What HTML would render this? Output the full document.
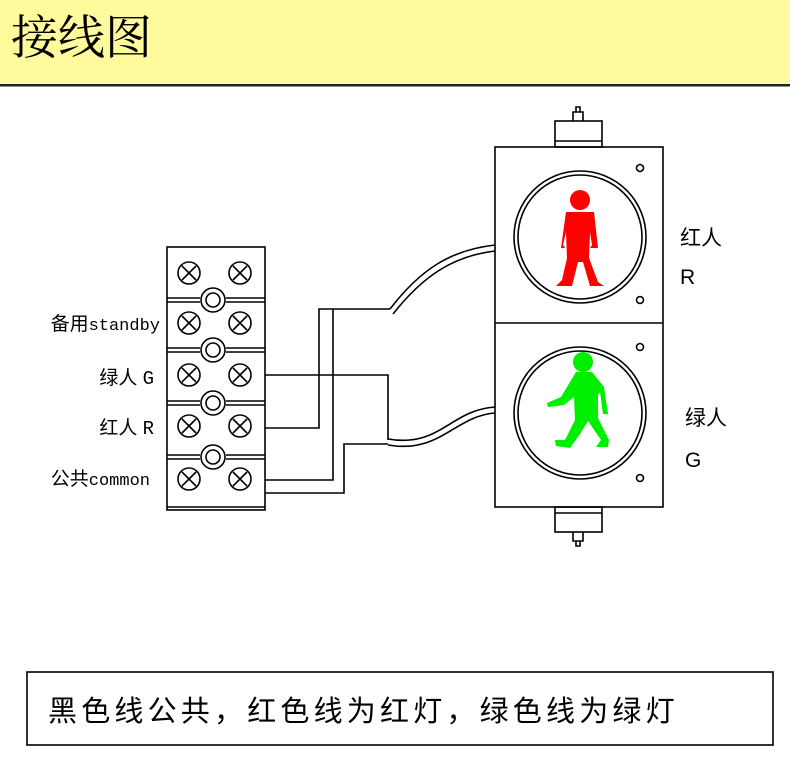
<!DOCTYPE html>
<html><head><meta charset="utf-8"><style>
body{margin:0;width:790px;height:771px;background:#fff;overflow:hidden}
svg{display:block}
text{font-family:"Liberation Sans","Noto Sans CJK SC",sans-serif}
</style></head><body>
<svg width="790" height="771" viewBox="0 0 790 771" xmlns="http://www.w3.org/2000/svg">
<rect x="0" y="0" width="790" height="85" fill="#FFFA9C"/>
<rect x="0" y="84" width="790" height="2.5" fill="#222"/>
<text x="11" y="54" font-size="47" style='font-family:"Noto Serif CJK SC","Liberation Serif",serif'>接线图</text>

<g fill="none" stroke="#000" stroke-width="1.6">
<rect x="167" y="247" width="98" height="263"/>
<line x1="167" y1="507" x2="265" y2="507"/>
<g>
<path d="M167 298 H200 M226 298 H265 M167 302 H200 M226 302 H265"/>
<path d="M167 348 H200 M226 348 H265 M167 352 H200 M226 352 H265"/>
<path d="M167 401 H200 M226 401 H265 M167 405 H200 M226 405 H265"/>
<path d="M167 455 H200 M226 455 H265 M167 459 H200 M226 459 H265"/>
</g>
<g>
<circle cx="213" cy="300" r="12"/><circle cx="213" cy="300" r="7"/>
<circle cx="213" cy="350" r="12"/><circle cx="213" cy="350" r="7"/>
<circle cx="213" cy="403" r="12"/><circle cx="213" cy="403" r="7"/>
<circle cx="213" cy="457" r="12"/><circle cx="213" cy="457" r="7"/>
</g>
<g id="scr">
<circle cx="189" cy="273" r="11"/><path d="M182 266 L196 280 M196 266 L182 280"/>
<circle cx="240" cy="273" r="11"/><path d="M233 266 L247 280 M247 266 L233 280"/>
</g>
<use href="#scr" y="50"/><use href="#scr" y="102"/><use href="#scr" y="153"/><use href="#scr" y="206"/>

<path d="M265 375 H388 V440"/>
<path d="M265 428 H319 V309 H390"/>
<path d="M265 480 H333 V309"/>
<path d="M265 493 H344 V444 H388"/>
<path d="M390 309 C420 270 450 250 495 245"/>
<path d="M393 314 C423 276 453 256 495 251"/>
<path d="M388 439 C440 448 450 410 495 407"/>
<path d="M388 445 C440 454 455 416 495 413"/>

<rect x="495" y="147" width="168" height="360"/>
<line x1="495" y1="323" x2="663" y2="323"/>
<rect x="555" y="121" width="47" height="26"/>
<line x1="555" y1="141" x2="602" y2="141"/>
<path d="M573 121 V112 H583 V121 M576 112 V107 H580 V112"/>
<rect x="555" y="507" width="47" height="25"/>
<line x1="555" y1="513" x2="602" y2="513"/>
<path d="M573 532 V541 H583 V532 M576 541 V546 H580 V541"/>
<circle cx="580" cy="237" r="66"/><circle cx="580" cy="237" r="62"/>
<circle cx="580" cy="413" r="66"/><circle cx="580" cy="413" r="62"/>
<circle cx="640" cy="168" r="3.5"/><circle cx="640" cy="300" r="3.5"/>
<circle cx="640" cy="347" r="3.5"/><circle cx="640" cy="478" r="3.5"/>
</g>

<g fill="#FF0000">
<circle cx="580" cy="200" r="10"/>
<path d="M566 212 H594 L598 248 H590 L592 245 L590 232 L589 258 L598 282 L604 286 H590 L583 262 L578 262 L572 286 H556 L562 280 L567 258 L566 232 L563 245 L565 248 H561 Z"/>
</g>
<g fill="#00EE00">
<circle cx="583" cy="362" r="10"/>
<path d="M576 372 H592 L604 387 L608 414 L603 414 L600 392 L598 395 L598 418 L609 440 L608 447 L596 447 L601 440 L588 421 L580 434 L570 448 L556 446 L555 440 L565 440 L575 420 L574 397 L564 405 L548 407 L547 403 L561 397 Z"/>
</g>

<g font-size="21" fill="#000">
<text x="680" y="245">红人</text>
<text x="680" y="284" font-family="Liberation Mono,monospace">R</text>
<text x="685" y="425">绿人</text>
<text x="685" y="467" font-family="Liberation Mono,monospace">G</text>
</g>
<g font-size="19" fill="#000" text-anchor="end">
<text x="160" y="330">备用<tspan font-family="Liberation Mono,monospace" font-size="17">standby</tspan></text>
<text x="154" y="384">绿人 <tspan font-family="Liberation Mono,monospace">G</tspan></text>
<text x="154" y="434">红人 <tspan font-family="Liberation Mono,monospace">R</tspan></text>
<text x="150" y="485">公共<tspan font-family="Liberation Mono,monospace" font-size="17">common</tspan></text>
</g>

<rect x="27" y="672" width="746" height="73" fill="none" stroke="#000" stroke-width="1.6"/>
<text x="48" y="721" font-size="29" letter-spacing="4.2">黑色线公共，红色线为红灯，绿色线为绿灯</text>
</svg>
</body></html>
